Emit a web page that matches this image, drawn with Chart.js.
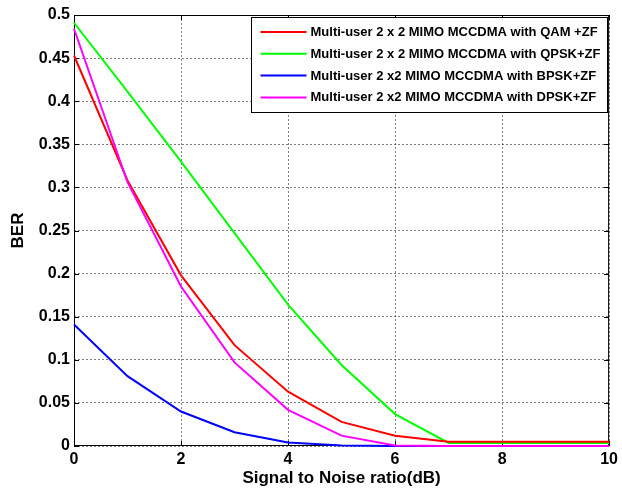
<!DOCTYPE html>
<html>
<head>
<meta charset="utf-8">
<script src="https://cdn.jsdelivr.net/npm/chart.js@4/dist/chart.umd.min.js"></script>
<style>
  html, body { margin: 0; padding: 0; background: #fff; }
  #wrap { width: 622px; height: 489px; }
</style>
</head>
<body>
<div id="wrap"><canvas id="berChart" width="622" height="489"></canvas></div>
<script>
// BER vs SNR for multi-user 2x2 MIMO MC-CDMA
const FONT = '"Liberation Sans", Arial, sans-serif';

const snrDb = [0, 1, 2, 3, 4, 5, 6, 7, 8, 9, 10];
const berQam  = [0.453, 0.308, 0.198, 0.117, 0.063, 0.028, 0.012, 0.005, 0.005, 0.005, 0.005];
const berQpsk = [0.491, 0.411, 0.330, 0.247, 0.164, 0.094, 0.037, 0.0035, 0.0035, 0.0035, 0.0035];
const berBpsk = [0.141, 0.081, 0.040, 0.016, 0.004, 0.0005, 0, 0, 0, 0, 0];
const berDpsk = [0.484, 0.306, 0.185, 0.097, 0.042, 0.012, 0.0005, 0, 0, 0, 0];

const seriesLabels = [
  "Multi-user 2 x 2 MIMO MCCDMA with QAM +ZF",
  "Multi-user 2 x 2 MIMO MCCDMA with QPSK+ZF",
  "Multi-user 2 x2 MIMO MCCDMA with BPSK+ZF",
  "Multi-user 2 x2 MIMO MCCDMA with DPSK+ZF"
];
const seriesColors = ["#ff0000", "#00ff00", "#0000ff", "#ff00ff"];
const seriesValues = [berQam, berQpsk, berBpsk, berDpsk];
const drawOrder = [1, 3, 2, 0]; // magenta on top, green at the bottom

function toPoints(values) {
  return snrDb.map((x, i) => ({ x: x, y: values[i] }));
}

// box + inward ticks (under the curves), legend inside the axes on top
const matlabFrame = {
  id: 'matlabFrame',
  beforeDatasetsDraw(chart) {
    const ctx = chart.ctx;
    const a = chart.chartArea;
    const xs = chart.scales.x, ys = chart.scales.y;
    ctx.save();
    ctx.strokeStyle = '#000';
    ctx.lineWidth = 1;
    ctx.setLineDash([]);
    ctx.strokeRect(a.left + 0.5, a.top + 0.5, a.right - a.left - 1, a.bottom - a.top - 1);
    ctx.beginPath();
    xs.ticks.forEach(t => {
      const px = Math.round(xs.getPixelForValue(t.value)) + 0.5;
      ctx.moveTo(px, a.bottom); ctx.lineTo(px, a.bottom - 5);
      ctx.moveTo(px, a.top); ctx.lineTo(px, a.top + 5);
    });
    ys.ticks.forEach(t => {
      const py = Math.round(ys.getPixelForValue(t.value)) + 0.5;
      ctx.moveTo(a.left, py); ctx.lineTo(a.left + 5, py);
      ctx.moveTo(a.right, py); ctx.lineTo(a.right - 5, py);
    });
    ctx.stroke();
    ctx.restore();
  },
  afterDraw(chart) {
    const ctx = chart.ctx;
    const a = chart.chartArea;
    ctx.save();
    ctx.font = 'bold 13px ' + FONT;
    let textW = 0;
    seriesLabels.forEach(s => { textW = Math.max(textW, ctx.measureText(s).width); });
    const boxW = 9 + 46 + 4 + textW + 7;
    const boxH = 95;
    const bx = Math.round(a.right - 2 - boxW) + 0.5;
    const by = a.top + 2.5;
    ctx.fillStyle = '#fff';
    ctx.fillRect(bx, by, boxW, boxH);
    ctx.strokeStyle = '#000';
    ctx.lineWidth = 1;
    ctx.strokeRect(bx, by, boxW, boxH);
    ctx.textBaseline = 'middle';
    ctx.textAlign = 'left';
    seriesLabels.forEach((s, i) => {
      const ry = by + 14.5 + i * 21.8;
      ctx.strokeStyle = seriesColors[i];
      ctx.lineWidth = 2;
      ctx.beginPath();
      ctx.moveTo(bx + 9, ry); ctx.lineTo(bx + 55, ry);
      ctx.stroke();
      ctx.fillStyle = '#000';
      ctx.fillText(s, bx + 59, ry + 0.5);
    });
    ctx.restore();
  }
};

const ctx = document.getElementById('berChart').getContext('2d');

new Chart(ctx, {
  type: 'line',
  data: {
    datasets: seriesValues.map((vals, i) => ({
      label: seriesLabels[i],
      data: toPoints(vals),
      borderColor: seriesColors[i],
      backgroundColor: seriesColors[i],
      borderWidth: 2,
      pointRadius: 0,
      tension: 0,
      fill: false,
      clip: 4,
      order: drawOrder[i]
    }))
  },
  options: {
    responsive: false,
    animation: false,
    layout: { padding: { top: 15, right: 9, left: 0, bottom: 0 } },
    plugins: {
      legend: { display: false },
      tooltip: { enabled: false }
    },
    scales: {
      x: {
        type: 'linear',
        min: 0,
        max: 10,
        afterFit: s => { s.height = 43; },
        ticks: {
          stepSize: 2,
          padding: 4,
          color: '#000',
          font: { family: FONT, size: 16, weight: 'bold' }
        },
        grid: { color: 'rgba(0,0,0,0.5)', lineWidth: 1, drawTicks: false },
        border: { display: false, dash: [2, 2] },
        title: {
          display: true,
          text: 'Signal to Noise ratio(dB)',
          color: '#000',
          padding: { top: 0, bottom: 0 },
          font: { family: FONT, size: 17, weight: 'bold' }
        }
      },
      y: {
        min: 0,
        max: 0.5,
        afterFit: s => { s.width = 74; },
        ticks: {
          stepSize: 0.05,
          padding: 4,
          color: '#000',
          font: { family: FONT, size: 16, weight: 'bold' },
          callback: v => String(+v.toFixed(2))
        },
        grid: { color: 'rgba(0,0,0,0.5)', lineWidth: 1, drawTicks: false },
        border: { display: false, dash: [2, 2] },
        title: {
          display: true,
          text: 'BER',
          color: '#000',
          padding: { top: 8, bottom: 0 },
          font: { family: FONT, size: 17, weight: 'bold' }
        }
      }
    }
  },
  plugins: [matlabFrame]
});
</script>
</body>
</html>
